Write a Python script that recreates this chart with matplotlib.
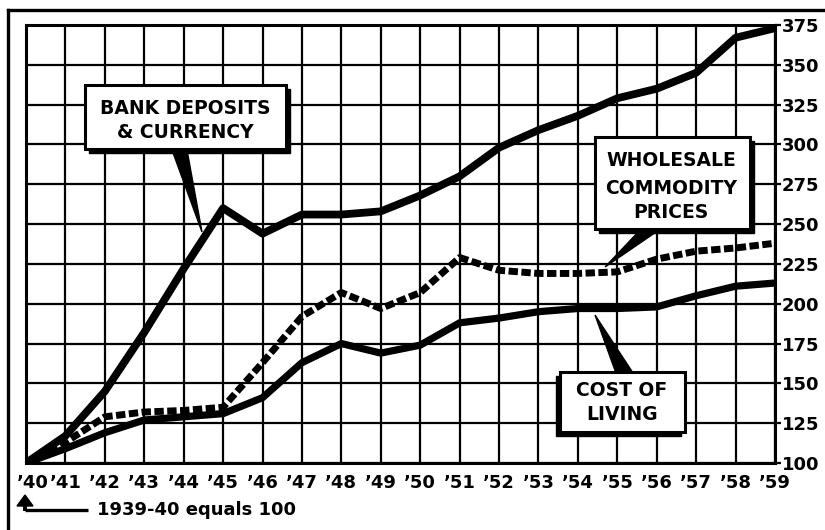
import matplotlib
matplotlib.use("Agg")
import matplotlib.pyplot as plt
from matplotlib.patches import Rectangle, Polygon

plt.rcParams['font.family'] = ['DejaVu Sans']

# ---------------- data ----------------
years = list(range(1940, 1960))
year_labels = ["\u2019" + str(y)[2:] for y in years]
bank_deposits = [100, 117, 145, 182, 222, 260, 244, 256, 256, 258,
                 268, 280, 298, 309, 318, 329, 335, 345, 367, 373]
wholesale_prices = [100, 113, 129, 132, 133, 135, 163, 192, 207, 197,
                    207, 229, 221, 219, 219, 220, 228, 233, 235, 238]
cost_of_living = [100, 109, 119, 127, 129, 131, 141, 163, 175, 169,
                  174, 188, 191, 195, 197, 197, 198, 205, 211, 213]
y_ticks = [100, 125, 150, 175, 200, 225, 250, 275, 300, 325, 350, 375]

W, H = 825, 530
fig = plt.figure(figsize=(W / 100, H / 100), dpi=100)
fig.patch.set_facecolor('white')

# main axes (pixel box: x 26..775, y 25..463)
L, R, T, B = 26, 775, 25, 463
ax = fig.add_axes([L / W, 1 - B / H, (R - L) / W, (B - T) / H])
ax.set_xlim(years[0], years[-1])
ax.set_ylim(y_ticks[0], y_ticks[-1])
ax.set_xticks(years)
ax.set_xticklabels([""] + year_labels[1:])
ax.set_yticks(y_ticks)
ax.set_yticklabels([str(v) for v in y_ticks])
ax.yaxis.tick_right()
ax.grid(True, color='black', linewidth=1.6)
ax.set_axisbelow(True)
for s in ax.spines.values():
    s.set_linewidth(2.2)
    s.set_color('black')
ax.tick_params(axis='x', length=0, pad=8, labelsize=13)
ax.tick_params(axis='y', length=4, width=1.6, pad=1, labelsize=13)
for lab in ax.get_xticklabels() + ax.get_yticklabels():
    lab.set_fontweight('bold')

ax.plot(years, bank_deposits, color='black', linewidth=5.6,
        solid_joinstyle='round', solid_capstyle='round', zorder=5)
ax.plot(years, cost_of_living, color='black', linewidth=5.2,
        solid_joinstyle='round', solid_capstyle='round', zorder=5)
ax.plot(years, wholesale_prices, color='black', linewidth=5.0,
        linestyle=(0, (1.35, 0.5)), dash_capstyle='butt', zorder=5)

# overlay in pixel coordinates
ov = fig.add_axes([0, 0, 1, 1])
ov.set_xlim(0, W)
ov.set_ylim(H, 0)
ov.axis('off')
ov.patch.set_alpha(0)

# first year label, nudged right of the corner as in the original
lab40 = ax.get_xticklabels()[1]
ov.text(33, 0, year_labels[0], ha='center', va='top', fontsize=13,
        fontweight='bold', transform=ov.transData)


def callout(x0, y0, x1, y1, sdx, sdy, lines, cx, ys, wedge):
    ov.add_patch(Polygon(wedge, closed=True, facecolor='black',
                         edgecolor='black', lw=1, zorder=2))
    ov.add_patch(Rectangle((x0 + sdx, y0 + sdy), x1 - x0, y1 - y0,
                           facecolor='black', edgecolor='black', zorder=3))
    ov.add_patch(Rectangle((x0, y0), x1 - x0, y1 - y0, facecolor='white',
                           edgecolor='black', lw=2.2, zorder=4))
    for t, yy in zip(lines, ys):
        ov.text(cx, yy, t, ha='center', va='center', fontsize=13.5,
                fontweight='bold', zorder=5)


callout(85, 85, 286, 149, 4, 4, ["BANK DEPOSITS", "& CURRENCY"], 185,
        [108, 132], [(172, 150), (187, 150), (202, 232)])
callout(595, 137, 750, 229, 4, 4, ["WHOLESALE", "COMMODITY", "PRICES"], 671,
        [161, 188, 212], [(642, 228), (662, 228), (605, 267)])
callout(560, 372, 685, 432, -4, 4, ["COST OF", "LIVING"], 622,
        [391, 415], [(617, 376), (635, 376), (595, 315)])

# outer frame (left and top)
ov.plot([8, 8], [10, H], color='black', lw=2.4)
ov.plot([8, W], [10, 10], color='black', lw=2.4)

# base note with arrow
ov.plot([25, 88], [510, 510], color='black', lw=2.4, solid_capstyle='butt')
ov.plot([25, 25], [511, 503], color='black', lw=2.8, solid_capstyle='butt')
ov.add_patch(Polygon([(17, 506), (33, 506), (25, 495)], closed=True,
                     facecolor='black', edgecolor='black'))
ov.text(97, 510, "1939-40 equals 100", ha='left', va='center',
        fontsize=13, fontweight='bold')

# place the '40 label at the same height as the other year labels
fig.canvas.draw()
rend = fig.canvas.get_renderer()
bb = ax.get_xticklabels()[1].get_window_extent(rend)
inv = ov.transData.inverted()
top_px = inv.transform((0, bb.y1))[1]
ov.texts[0].set_y(top_px)

fig.savefig("out.png", dpi=100, facecolor='white')
